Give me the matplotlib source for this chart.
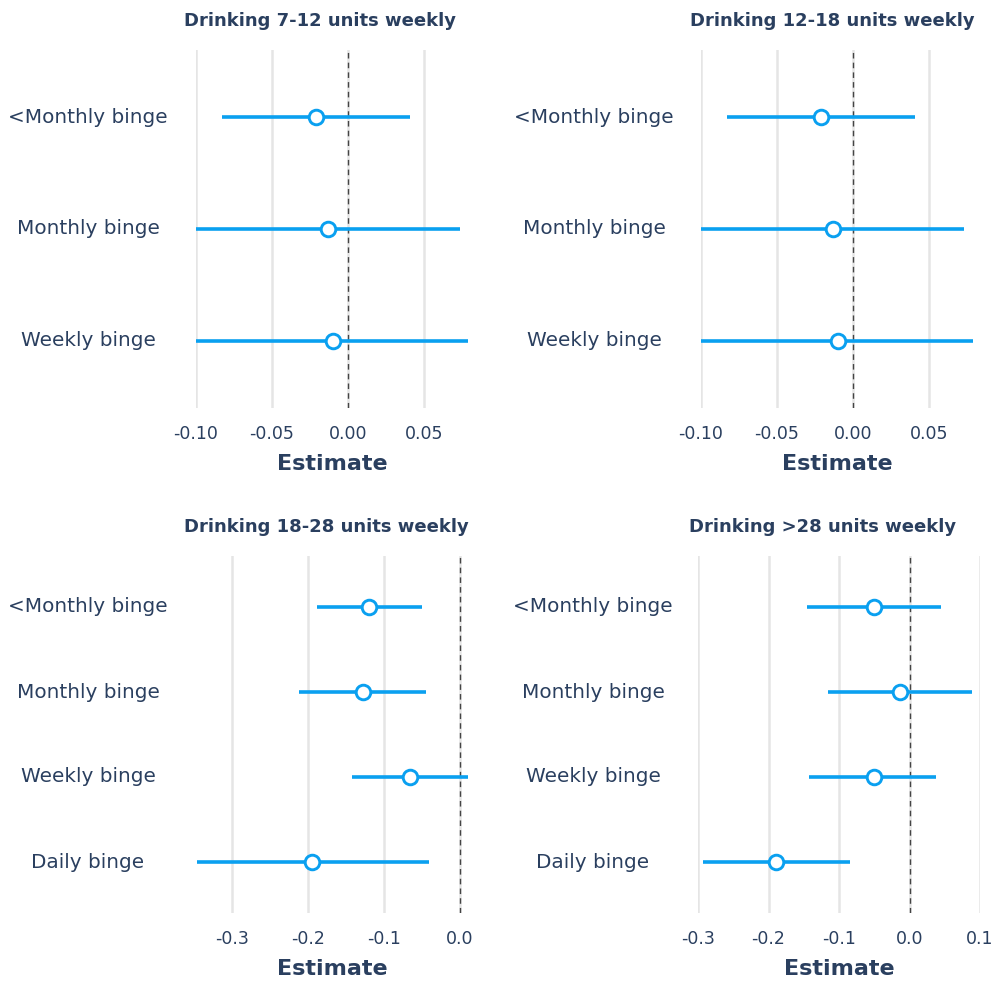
import matplotlib.pyplot as plt

# categories, top to bottom
cats_3 = ['<Monthly binge', 'Monthly binge', 'Weekly binge']
cats_4 = ['<Monthly binge', 'Monthly binge', 'Weekly binge', 'Daily binge']

titles = ['Drinking 7-12 units weekly', 'Drinking 12-18 units weekly',
          'Drinking 18-28 units weekly', 'Drinking >28 units weekly']

# estimates and confidence bounds per panel
est_7_12 = [-0.021, -0.013, -0.010]
lo_7_12 = [-0.083, -0.100, -0.100]
hi_7_12 = [0.041, 0.074, 0.079]

est_12_18 = [-0.021, -0.013, -0.010]
lo_12_18 = [-0.083, -0.100, -0.100]
hi_12_18 = [0.041, 0.073, 0.079]

est_18_28 = [-0.120, -0.128, -0.066, -0.195]
lo_18_28 = [-0.188, -0.212, -0.142, -0.346]
hi_18_28 = [-0.050, -0.045, 0.010, -0.041]

est_28 = [-0.051, -0.013, -0.051, -0.189]
lo_28 = [-0.146, -0.116, -0.142, -0.293]
hi_28 = [0.045, 0.089, 0.038, -0.084]

xticks_top = [-0.10, -0.05, 0.00, 0.05]
xticklabels_top = ['-0.10', '-0.05', '0.00', '0.05']
xticks_bl = [-0.3, -0.2, -0.1, 0.0]
xticks_br = [-0.3, -0.2, -0.1, 0.0, 0.1]

TEXT = '#2A3F5F'
BLUE = '#0AA0F0'
W, H = 994, 981

fig = plt.figure(figsize=(W / 100, H / 100), dpi=100)


def make_axes(left, right, top, bottom):
    return fig.add_axes([left / W, 1 - bottom / H, (right - left) / W, (bottom - top) / H])


def forest(ax, cats, est, lo, hi, xlim, xticks, xticklabels, label_px):
    n = len(cats)
    y = list(range(n))
    for i in y:
        ax.plot([lo[i], hi[i]], [i, i], color=BLUE, lw=2.6, solid_capstyle='butt', zorder=3)
    ax.plot(est, y, 'o', ms=10.5, mfc='white', mec=BLUE, mew=2.1, zorder=4)
    ax.axvline(0, color='#444444', lw=1.0, ls=(0, (4, 3)), zorder=2)
    ax.set_xlim(*xlim)
    ax.set_ylim(n - 0.4, -0.6)
    ax.set_xticks(xticks)
    ax.set_xticklabels(xticklabels)
    ax.set_yticks(y)
    ax.set_yticklabels(cats)
    for s in ax.spines.values():
        s.set_visible(False)
    ax.grid(axis='x', color='#E5E5E5', lw=1.8, zorder=0)
    ax.set_axisbelow(True)
    ax.tick_params(axis='both', length=0, colors=TEXT)
    ax.tick_params(axis='x', labelsize=12.5, pad=12)
    ax.tick_params(axis='y', labelsize=14.4, pad=label_px * 0.72)
    for lab in ax.get_yticklabels():
        lab.set_horizontalalignment('center')
        lab.set_verticalalignment('center')
    ax.set_xlabel('Estimate', fontsize=16, fontweight='bold', color=TEXT, labelpad=8)


ax1 = make_axes(196, 468, 50, 408)
forest(ax1, cats_3, est_7_12, lo_7_12, hi_7_12, (-0.10, 0.079),
       xticks_top, xticklabels_top, 108)

ax2 = make_axes(701, 973, 50, 408)
forest(ax2, cats_3, est_12_18, lo_12_18, hi_12_18, (-0.10, 0.079),
       xticks_top, xticklabels_top, 107)

ax3 = make_axes(197, 468, 556, 913)
forest(ax3, cats_4, est_18_28, lo_18_28, hi_18_28, (-0.346, 0.0105),
       xticks_bl, ['-0.3', '-0.2', '-0.1', '0.0'], 109)

ax4 = make_axes(698, 980, 556, 913)
forest(ax4, cats_4, est_28, lo_28, hi_28, (-0.30, 0.10),
       xticks_br, ['-0.3', '-0.2', '-0.1', '0.0', '0.1'], 105)

# panel titles
title_pos = [(320, 21), (832, 21), (326, 527), (823, 527)]
for t, (px, py) in zip(titles, title_pos):
    fig.text(px / W, 1 - py / H, t, ha='center', va='center',
             fontsize=13, fontweight='bold', color=TEXT)

fig.savefig('out.png', dpi=100)
